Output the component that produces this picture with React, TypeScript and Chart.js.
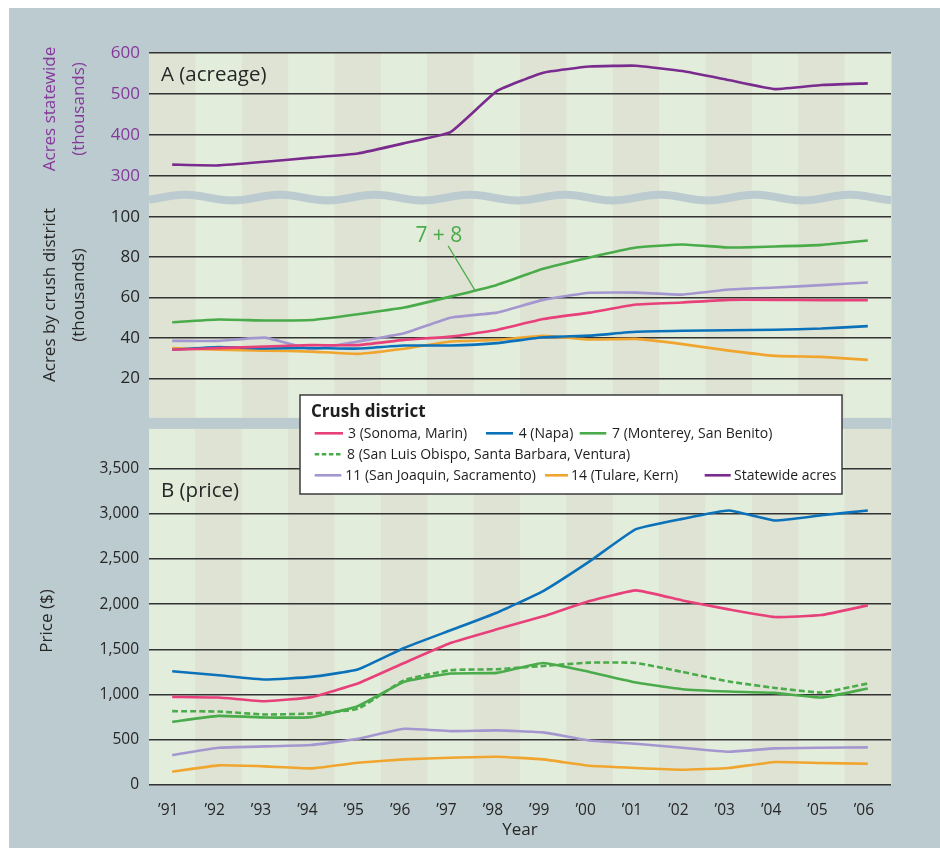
import React, { useEffect, useRef } from 'react';
import { Chart, registerables } from 'chart.js';

Chart.register(...registerables);

// ---------- data ----------
const YEARS = [1991, 1992, 1993, 1994, 1995, 1996, 1997, 1998, 1999, 2000, 2001, 2002, 2003, 2004, 2005, 2006];

// Panel A: acreage (thousands)
const STATEWIDE_ACRES = [328, 326, 335, 345, 355, 380, 407, 507, 552, 567, 569, 556, 534, 512, 522, 526];
const ACRES_3 = [34.2, 35, 35.8, 36.5, 36.5, 39.1, 40.7, 44, 49.4, 52.6, 56.6, 57.6, 58.9, 58.9, 58.7, 58.7];
const ACRES_4 = [34.2, 35.6, 34.8, 35.1, 34.8, 36.3, 36.3, 37.5, 40.4, 41.2, 43.1, 43.6, 43.9, 44.1, 44.7, 45.9];
const ACRES_7_8 = [47.8, 49.2, 48.7, 48.9, 51.8, 55.1, 60.5, 66.3, 74.3, 79.9, 84.8, 86.3, 84.8, 85.3, 86.1, 88.3];
const ACRES_11 = [38.6, 38.6, 40.2, 34.6, 38.3, 42.4, 50.1, 52.6, 58.9, 62.4, 62.5, 61.5, 64, 65, 66.2, 67.5];
const ACRES_14 = [35, 34.2, 33.8, 33.3, 32.2, 34.7, 38.3, 39.1, 41.1, 39.3, 39.6, 37, 33.8, 31.2, 30.7, 29.2];

// Panel B: price ($)
const PRICE_3 = [975, 968, 927, 972, 1123, 1350, 1571, 1722, 1866, 2035, 2153, 2042, 1943, 1858, 1880, 1987];
const PRICE_4 = [1258, 1214, 1167, 1196, 1277, 1516, 1711, 1906, 2145, 2473, 2830, 2944, 3036, 2926, 2984, 3036];
const PRICE_7 = [699, 765, 747, 751, 872, 1141, 1233, 1240, 1350, 1251, 1134, 1060, 1034, 1019, 968, 1068];
const PRICE_8 = [817, 813, 780, 791, 842, 1159, 1270, 1281, 1317, 1354, 1350, 1251, 1145, 1074, 1023, 1123];
const PRICE_11 = [331, 412, 427, 442, 511, 622, 596, 604, 582, 493, 456, 412, 368, 405, 412, 416];
const PRICE_14 = [147, 217, 206, 184, 246, 283, 302, 313, 283, 213, 188, 169, 188, 254, 243, 235];

// tick labels
const TOP_TICKS = [300, 400, 500, 600];
const MID_TICKS = [20, 40, 60, 80, 100];
const PRICE_TICKS = [0, 500, 1000, 1500, 2000, 2500, 3000, 3500];

const LEGEND_TITLE = 'Crush district';
const LEGEND_LABELS = [
  '3 (Sonoma, Marin)',
  '4 (Napa)',
  '7 (Monterey, San Benito)',
  '8 (San Luis Obispo, Santa Barbara, Ventura)',
  '11 (San Joaquin, Sacramento)',
  '14 (Tulare, Kern)',
  'Statewide acres',
];

// ---------- styles ----------
const FONT = "'Open Sans', 'DejaVu Sans', sans-serif";
const BG = '#bccbcf';
const STRIPE_DARK = '#dfe3d4';
const STRIPE_LIGHT = '#e3eddc';
const GRID = '#333333';
const TEXT = '#262626';
const PURPLE_TEXT = '#84399a';
const C3 = '#e8407a';
const C4 = '#0b72ba';
const C7 = '#4aab4a';
const C11 = '#a497cf';
const C14 = '#f0a52f';
const CSTATE = '#7a2b8e';

const W = 931;
const H = 840;
const OX = 9;
const OY = 8;
const px = (x: number) => x - OX;
const py = (y: number) => y - OY;

const pts = (vals: number[]) => vals.map((v, i) => ({ x: YEARS[i], y: v }));

const line = (label: string, vals: number[], color: string, yAxisID: string, dash: number[] = []) => ({
  label,
  data: pts(vals),
  borderColor: color,
  backgroundColor: color,
  borderWidth: 2.6,
  borderDash: dash,
  pointRadius: 0,
  tension: 0.12,
  fill: false,
  yAxisID,
});

// ---------- plugins ----------
const backgroundPlugin = {
  id: 'panelBackground',
  beforeDraw(chart: any) {
    const { ctx, chartArea } = chart;
    const yTop = chart.scales.yTop;
    const yMid = chart.scales.yMid;
    const n = YEARS.length;
    const w = (chartArea.right - chartArea.left) / n;
    ctx.save();
    ctx.fillStyle = BG;
    ctx.fillRect(0, 0, chart.width, chart.height);
    const split = yMid.bottom;
    for (let i = 0; i < n; i++) {
      const x0 = chartArea.left + i * w;
      ctx.fillStyle = i % 2 === 0 ? STRIPE_DARK : STRIPE_LIGHT;
      ctx.fillRect(x0, chartArea.top, w + 0.5, split - chartArea.top);
      ctx.fillStyle = i % 2 === 1 ? STRIPE_DARK : STRIPE_LIGHT;
      ctx.fillRect(x0, split, w + 0.5, chartArea.bottom - split);
    }
    // gap between panels
    ctx.fillStyle = BG;
    ctx.fillRect(chartArea.left, split - 1, chartArea.right - chartArea.left, 11);
    // wavy axis break
    const cy = yTop.bottom + 1;
    const period = 95;
    const crest = 36;
    ctx.beginPath();
    for (let x = chartArea.left; x <= chartArea.right; x += 1) {
      const y = cy - 2.8 * Math.cos((2 * Math.PI * (x - chartArea.left - crest)) / period);
      if (x === chartArea.left) ctx.moveTo(x, y);
      else ctx.lineTo(x, y);
    }
    ctx.strokeStyle = BG;
    ctx.lineWidth = 8;
    ctx.stroke();
    ctx.restore();
  },
};

function drawRotated(ctx: CanvasRenderingContext2D, lines: string[], cx: number, cy: number, gap: number, font: string, color: string) {
  ctx.save();
  ctx.translate(cx, cy);
  ctx.rotate(-Math.PI / 2);
  ctx.textAlign = 'center';
  ctx.textBaseline = 'middle';
  ctx.font = font;
  ctx.fillStyle = color;
  lines.forEach((l, i) => ctx.fillText(l, 0, (i - (lines.length - 1) / 2) * gap));
  ctx.restore();
}

const labelsPlugin = {
  id: 'panelLabels',
  afterDraw(chart: any) {
    const { ctx } = chart;
    const x = chart.scales.x;
    const yMid = chart.scales.yMid;
    ctx.save();
    // axis titles
    drawRotated(ctx, ['Acres statewide', '(thousands)'], px(64.5), py(109), 29, `17px ${FONT}`, PURPLE_TEXT);
    drawRotated(ctx, ['Acres by crush district', '(thousands)'], px(64.5), py(295), 29, `17px ${FONT}`, TEXT);
    drawRotated(ctx, ['Price ($)'], px(47), py(621), 29, `17px ${FONT}`, TEXT);
    // panel titles
    ctx.font = `20.5px ${FONT}`;
    ctx.fillStyle = TEXT;
    ctx.textAlign = 'left';
    ctx.textBaseline = 'alphabetic';
    ctx.fillText('A (acreage)', px(161), py(81));
    ctx.fillText('B (price)', px(161), py(497));
    // "7 + 8" annotation
    const tx = x.getPixelForValue(1996.75);
    const ty = yMid.getPixelForValue(87.6);
    ctx.font = `21px ${FONT}`;
    ctx.fillStyle = C7;
    ctx.textAlign = 'center';
    ctx.fillText('7 + 8', tx, ty);
    const endX = 1997.53;
    const i = YEARS.indexOf(Math.floor(endX));
    const f = endX - YEARS[i];
    const endY = ACRES_7_8[i] + f * (ACRES_7_8[i + 1] - ACRES_7_8[i]);
    ctx.beginPath();
    ctx.moveTo(x.getPixelForValue(1996.95), yMid.getPixelForValue(85.6));
    ctx.lineTo(x.getPixelForValue(endX), yMid.getPixelForValue(endY));
    ctx.strokeStyle = C7;
    ctx.lineWidth = 1.2;
    ctx.stroke();
    ctx.restore();
  },
};

const legendPlugin = {
  id: 'customLegend',
  afterDraw(chart: any) {
    const { ctx } = chart;
    ctx.save();
    const bx = px(300), by = py(395), bw = 542, bh = 99;
    ctx.fillStyle = '#ffffff';
    ctx.fillRect(bx, by, bw, bh);
    ctx.strokeStyle = '#3c3c3c';
    ctx.lineWidth = 1.5;
    ctx.strokeRect(bx, by, bw, bh);
    ctx.fillStyle = '#1e1e1e';
    ctx.font = `bold 17px ${FONT}`;
    ctx.textAlign = 'left';
    ctx.textBaseline = 'alphabetic';
    ctx.fillText(LEGEND_TITLE, px(311), py(417));
    const rows = [433.3, 454.3, 475.3];
    const items = [
      { i: 0, row: 0, x0: 314.7, x1: 343, tx: 348, color: C3, dash: [] as number[] },
      { i: 1, row: 0, x0: 486, x1: 513, tx: 518.7, color: C4, dash: [] },
      { i: 2, row: 0, x0: 579.7, x1: 606.3, tx: 612, color: C7, dash: [] },
      { i: 3, row: 1, x0: 314.7, x1: 341, tx: 347, color: C7, dash: [4.5, 2.6] },
      { i: 4, row: 2, x0: 314.7, x1: 341.3, tx: 345.3, color: C11, dash: [] },
      { i: 5, row: 2, x0: 545, x1: 568, tx: 571, color: C14, dash: [] },
      { i: 6, row: 2, x0: 704.7, x1: 730.7, tx: 734, color: CSTATE, dash: [] },
    ];
    ctx.font = `14px ${FONT}`;
    for (const it of items) {
      const cy = py(rows[it.row]);
      ctx.beginPath();
      ctx.setLineDash(it.dash);
      ctx.moveTo(px(it.x0), cy);
      ctx.lineTo(px(it.x1), cy);
      ctx.strokeStyle = it.color;
      ctx.lineWidth = 2.6;
      ctx.stroke();
      ctx.setLineDash([]);
      ctx.fillStyle = '#1e1e1e';
      ctx.fillText(LEGEND_LABELS[it.i], px(it.tx), cy + 5);
    }
    ctx.restore();
  },
};

// ---------- component ----------
export default function App() {
  const ref = useRef<HTMLCanvasElement>(null);

  useEffect(() => {
    const setTicks = (vals: number[]) => (scale: any) => {
      scale.ticks = vals.map((v) => ({ value: v }));
    };
    const yCommon = (ticks: number[], color: string, size: number, padding: number) => ({
      type: 'linear' as const,
      position: 'left' as const,
      stack: 'panels',
      afterBuildTicks: setTicks(ticks),
      afterFit: (s: any) => {
        s.width = 140;
      },
      grid: { color: GRID, lineWidth: 1.6, drawTicks: false },
      border: { display: false },
      ticks: {
        color,
        padding,
        font: { family: FONT, size },
        callback: (v: any) => Number(v).toLocaleString('en-US'),
      },
    });

    const chart = new Chart(ref.current as HTMLCanvasElement, {
      type: 'line',
      data: {
        datasets: [
          line('Statewide acres', STATEWIDE_ACRES, CSTATE, 'yTop'),
          line('3 acres', ACRES_3, C3, 'yMid'),
          line('4 acres', ACRES_4, C4, 'yMid'),
          line('11 acres', ACRES_11, C11, 'yMid'),
          line('14 acres', ACRES_14, C14, 'yMid'),
          line('7 + 8 acres', ACRES_7_8, C7, 'yMid'),
          line('11 price', PRICE_11, C11, 'yBot'),
          line('14 price', PRICE_14, C14, 'yBot'),
          line('7 price', PRICE_7, C7, 'yBot'),
          line('8 price', PRICE_8, C7, 'yBot', [6, 3]),
          line('3 price', PRICE_3, C3, 'yBot'),
          line('4 price', PRICE_4, C4, 'yBot'),
        ],
      },
      options: {
        responsive: false,
        animation: false,
        devicePixelRatio: 1,
        events: [],
        layout: { padding: { left: 0, right: 49, top: 45, bottom: 0 } },
        plugins: { legend: { display: false }, tooltip: { enabled: false } },
        scales: {
          x: {
            type: 'linear',
            min: 1990.5,
            max: 2006.5,
            afterBuildTicks: setTicks(YEARS),
            afterFit: (s: any) => {
              s.height = 63;
            },
            grid: { display: false },
            border: { display: false },
            ticks: {
              color: TEXT,
              padding: 8,
              labelOffset: -4,
              font: { family: FONT, size: 15.5 },
              callback: (v: any) => '\u2019' + String(v).slice(2),
            },
            title: {
              display: true,
              text: 'Year',
              color: TEXT,
              font: { family: FONT, size: 17 },
              padding: { top: 0, bottom: 8 },
            },
          },
          yTop: { ...yCommon(TOP_TICKS, PURPLE_TEXT, 17, 9), min: 250, max: 600, stackWeight: 143.6, weight: 3 },
          yMid: { ...yCommon(MID_TICKS, TEXT, 17, 9), min: 0, max: 110, stackWeight: 222.3, weight: 2 },
          yBot: { ...yCommon(PRICE_TICKS, TEXT, 15.5, 10), min: 0, max: 4050, stackWeight: 366.1, weight: 1 },
        },
      } as any,
      plugins: [backgroundPlugin, labelsPlugin, legendPlugin],
    });
    return () => chart.destroy();
  }, []);

  return (
    <div style={{ position: 'fixed', left: OX, top: OY, width: W, height: H }}>
      <canvas ref={ref} width={W} height={H} style={{ display: 'block', width: W, height: H }} />
    </div>
  );
}
